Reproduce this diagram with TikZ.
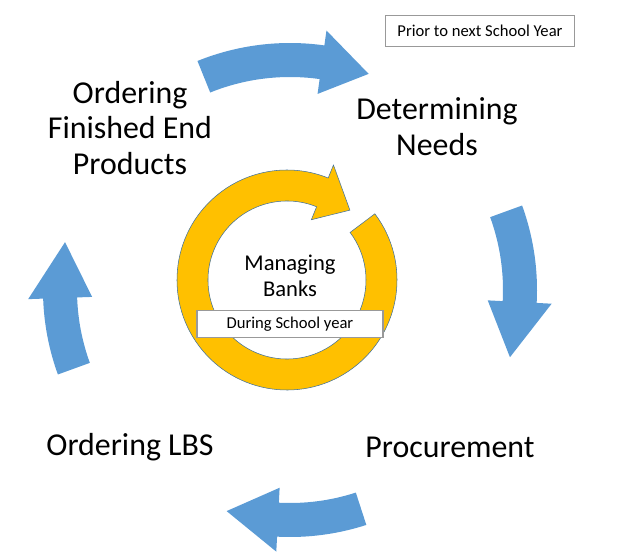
\documentclass[tikz,border=0pt]{standalone}
\usepackage{fontspec}
\setmainfont{Carlito}
\definecolor{cycleblue}{HTML}{5B9BD5}
\definecolor{ringgold}{HTML}{FFC000}
\definecolor{ringedge}{HTML}{41719C}
% curved block arrow: #1 start angle, #2 head base angle, #3 tip angle
\newcommand{\cyclearrow}[3]{%
  \fill[cycleblue] (#1:247) arc[start angle=#1, end angle=#2, radius=247]
    -- (#2:262) -- (#3:230) -- (#2:198) -- (#2:213)
    arc[start angle=#2, end angle=#1, radius=213] -- cycle;}
\begin{document}
\begin{tikzpicture}[x=0.02646cm, y=0.02646cm,
    stage/.style={align=center, font=\fontsize{24}{27}\selectfont},
    note/.style={draw=gray!80, thick, fill=white, font=\fontsize{12.5}{14}\selectfont, inner sep=0pt}]
  \useasboundingbox (0,0) rectangle (637,554);
  % outer cycle
  \begin{scope}[shift={(290,264)}]
    \cyclearrow{112}{82}{70}
    \cyclearrow{20}{-3}{-17}
    \cyclearrow{-72}{-93}{-106}
    \cyclearrow{200}{182}{168}
  \end{scope}
  % inner ring
  \begin{scope}[shift={(287,274)}]
    \filldraw[fill=ringgold, draw=ringedge, thin] (37:110)
      arc[start angle=37, end angle=-292, radius=110]
      -- (68:124) -- (48:94) -- (68:65) -- (68:79)
      arc[start angle=-292, end angle=37, radius=79] -- cycle;
  \end{scope}
  \node[stage] (finished) at (130,426) {Ordering\\Finished End\\Products};
  \node[stage] (needs) at (437,427) {Determining\\Needs};
  \node[stage] (procure) at (450,107) {Procurement};
  \node[stage] (lbs) at (130,107) {Ordering LBS};
  \node[stage, font=\fontsize{17}{20}\selectfont] (banks) at (290,278) {Managing\\Banks};
  \node[note, minimum width=142pt, minimum height=24pt] (prior) at (480,523) {Prior to next School Year};
  \node[note, minimum width=140pt, minimum height=21pt] (during) at (290,230) {During School year};
\end{tikzpicture}
\end{document}
